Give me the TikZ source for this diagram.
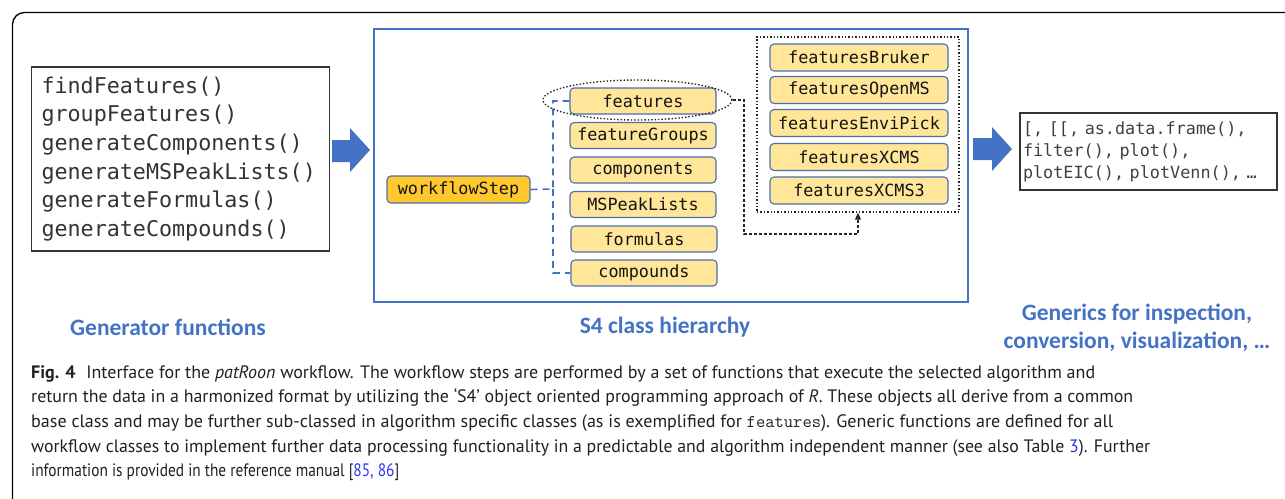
\documentclass[tikz,border=0pt]{standalone}
\usepackage{fontspec}
\usepackage{graphicx}
\setmainfont{PT Sans}
\newfontfamily\monof{DejaVu Sans Mono}
\newfontfamily\labf{Carlito}
\usetikzlibrary{arrows.meta,shapes.geometric}
\definecolor{obl}{HTML}{4472C4}
\definecolor{nodeb}{HTML}{4A6EAF}
\definecolor{ly}{HTML}{FFE699}
\definecolor{gold}{HTML}{FFC82E}
\definecolor{refblue}{HTML}{2B35F0}
\definecolor{captxt}{HTML}{231F20}
\newsavebox\capbox
\newcommand\fitto[2]{\sbox\capbox{#2}\pgfmathsetmacro\capsx{#1/\the\wd\capbox}\scalebox{\capsx}[1]{\usebox\capbox}}
\tikzset{
  cls/.style={draw=nodeb, line width=1.1pt, fill=ly, rounded corners=4pt,
    minimum width=146pt, minimum height=26pt, inner sep=0pt,
    font=\monof\fontsize{16.8}{18}\selectfont, text=black!92},
  subcls/.style={cls, minimum width=178pt, minimum height=27pt},
  fatarrow/.style={fill=obl},
  bdash/.style={draw=obl, line width=1.6pt, dash pattern=on 7pt off 5pt},
  kdash/.style={draw=black!85, line width=1.1pt, dash pattern=on 3pt off 2pt,
    -{Triangle[length=7pt,width=6pt]}},
  lab/.style={text=obl, font=\labf\bfseries\fontsize{23.5}{28}\selectfont, align=center},
  capline/.style={anchor=base west, inner sep=0pt, text=captxt,
    font=\fontsize{18}{24}\selectfont},
  codebox/.style={draw=black!80, line width=1.3pt, align=left, inner ysep=0pt}
}
\begin{document}
\begin{tikzpicture}[x=1pt,y=-1pt]
\useasboundingbox (0,0) rectangle (1285,498);
\clip (0,0) rectangle (1285,498);
% outer frame
\draw[line width=1.3pt, rounded corners=12pt] (12.5,530) -- (12.5,12.5) -- (1300,12.5);

% generator functions box
\node[codebox, minimum width=298pt, minimum height=184pt, text width=278pt, inner xsep=10pt,
  text=black!80, font=\monof\fontsize{21.7}{28.7}\selectfont] (gen) at (180.5,159)
  {findFeatures()\\groupFeatures()\\generateComponents()\\generateMSPeakLists()\\generateFormulas()\\generateCompounds()};

% fat arrows
\fill[fatarrow] (332,140) -- (350,140) -- (350,128) -- (370,150) -- (350,172) -- (350,162) -- (332,162) -- cycle;
\fill[fatarrow] (973,138) -- (992,138) -- (992,127) -- (1012,149) -- (992,171) -- (992,160) -- (973,160) -- cycle;

% S4 box
\node[draw=obl, line width=1.1pt, minimum width=594pt, minimum height=273pt, inner sep=0pt] (s4) at (671,165.5) {};

% workflowStep
\node[cls, fill=gold, minimum width=143pt, minimum height=27pt] (ws) at (458.5,189.5) {workflowStep};

% classes
\node[cls] (f1) at (643,101) {features};
\node[cls] (f2) at (643,135.5) {featureGroups};
\node[cls] (f3) at (643,170) {components};
\node[cls] (f4) at (643,204.5) {MSPeakLists};
\node[cls] (f5) at (644,239) {formulas};
\node[cls] (f6) at (644,273) {compounds};

% subclass group
\node[draw=black!85, dotted, line width=1.4pt, minimum width=202pt, minimum height=175pt, inner sep=0pt] (grp) at (858,124.5) {};
\node[subcls] (s1) at (859,57.5) {featuresBruker};
\node[subcls] (s2) at (859,90) {featuresOpenMS};
\node[subcls] (s3) at (859,123) {featuresEnviPick};
\node[subcls] (s4n) at (859,157) {featuresXCMS};
\node[subcls] (s5) at (859,190.5) {featuresXCMS3};

% ellipse
\node[ellipse, draw=black!85, dotted, line width=1.4pt, minimum width=189pt, minimum height=40pt, inner sep=0pt] (ell) at (637.5,100) {};

% connectors
\coordinate (jn) at (553,189);
\draw[bdash] (ws.east) -- (jn) |- (f1.west);
\draw[bdash] (jn) |- (f6.west);
\coordinate (bend) at (744,234);
\draw[kdash] (ell.east) -| (bend) -| (grp.south);

% generics box
\node[codebox, minimum width=257pt, minimum height=77pt, text width=251pt, inner xsep=3pt,
  text=black!75, font=\monof\fontsize{16.8}{22}\selectfont] (genr) at (1148.5,151.5)
  {[, [[, as.data.frame(),\\filter(), plot(),\\plotEIC(), plotVenn(), …};

% labels
\node[lab] (l1) at (168,327) {Generator functions};
\node[lab] (l2) at (665,327) {S4 class hierarchy};
\node[lab] (l3) at (1137,328) {Generics for inspection,\\conversion, visualization, …};

% caption
\node[capline] (c1) at (31,378) {\fitto{1064}{\textbf{Fig. 4}\hspace{0.6em}Interface for the \textit{patRoon} workflow. The workflow steps are performed by a set of functions that execute the selected algorithm and}};
\node[capline] (c2) at (31,402.7) {\fitto{1102}{return the data in a harmonized format by utilizing the ‘S4’ object oriented programming approach of \textit{R}. These objects all derive from a common}};
\node[capline] (c3) at (31,427.4) {\fitto{1082}{base class and may be further sub-classed in algorithm specific classes (as is exemplified for \texttt{features}). Generic functions are defined for all}};
\node[capline] (c4) at (31,452.1) {\fitto{1119}{workflow classes to implement further data processing functionality in a predictable and algorithm independent manner (see also Table \textcolor{refblue}{3}). Further}};
\node[capline] (c5) at (31,476.8) {\fitto{368}{information is provided in the reference manual [\textcolor{refblue}{85, 86}]}};
\end{tikzpicture}
\end{document}
